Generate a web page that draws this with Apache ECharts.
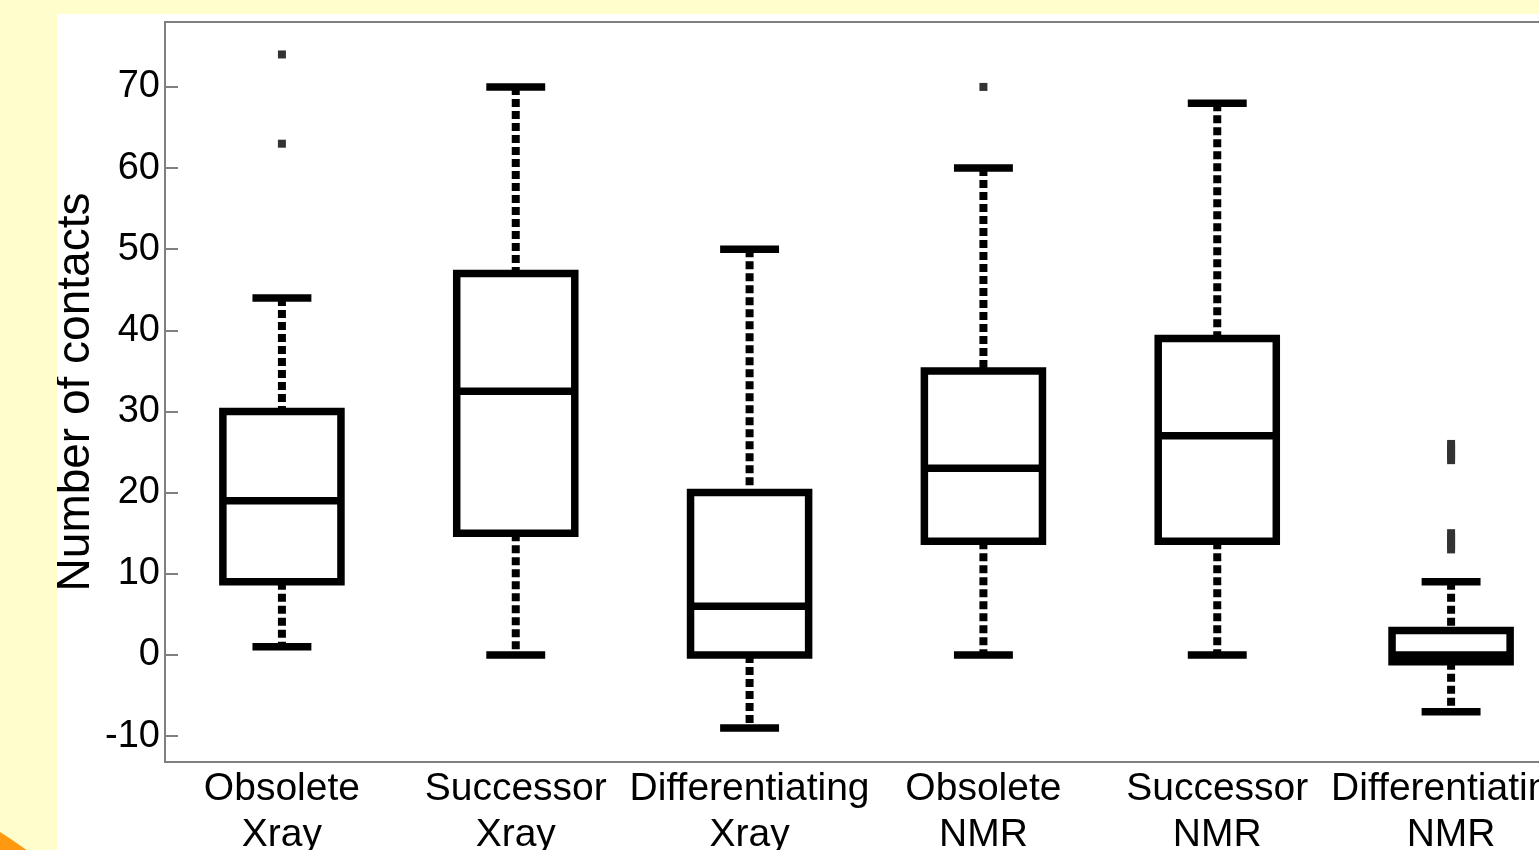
<!DOCTYPE html>
<html>
<head>
<meta charset="utf-8">
<script src="https://cdn.jsdelivr.net/npm/echarts@6/dist/echarts.min.js"></script>
<style>
  html, body { margin: 0; padding: 0; overflow: hidden; }
  #page { position: relative; width: 1539px; height: 850px; background: #fffdcc; overflow: hidden; }
  #corner { position: absolute; left: -856px; top: 744px; width: 1112px; height: 1112px; border-radius: 50%; background: #ff9a10; }
  #main { position: absolute; left: 57px; top: 14px; width: 1600px; height: 836px; background: #fff; }
</style>
</head>
<body>
<div id="page">
  <div id="corner"></div>
  <div id="main"></div>
</div>
<script>
// categories
var categories = ['Obsolete\nXray', 'Successor\nXray', 'Differentiating\nXray',
                  'Obsolete\nNMR', 'Successor\nNMR', 'Differentiating\nNMR'];
// box stats: [low whisker, Q1, median, Q3, high whisker]
var lowWhisker = [1, 0, -9, 0, 0, -7];
var q1 = [9, 15, 0, 14, 14, -0.85];
var median = [19, 32.5, 6, 23, 27, 0];
var q3 = [30, 47, 20, 35, 39, 3];
var highWhisker = [44, 70, 50, 60, 68, 9];
// outliers: [category index, value]
var outliers = [
  [0, 74], [0, 63],
  [3, 70],
  [5, 24], [5, 24.5], [5, 25], [5, 25.5], [5, 26],
  [5, 13], [5, 13.5], [5, 14], [5, 14.5], [5, 15]
];
var yTicks = [-10, 0, 10, 20, 30, 40, 50, 60, 70];

var boxData = [];
for (var i = 0; i < categories.length; i++) {
  boxData.push([i, lowWhisker[i], q1[i], median[i], q3[i], highWhisker[i]]);
}

var chart = echarts.init(document.getElementById('main'));

function renderBox(params, api) {
  var x = api.value(0);
  var pLo = api.coord([x, api.value(1)]);
  var pQ1 = api.coord([x, api.value(2)]);
  var pMed = api.coord([x, api.value(3)]);
  var pQ3 = api.coord([x, api.value(4)]);
  var pHi = api.coord([x, api.value(5)]);
  var band = api.size([1, 0])[0];
  var boxW = band * 0.505;
  var capW = band * 0.252;
  var cx = pMed[0];
  var dash = { stroke: '#000', lineWidth: 8, lineDash: [8, 4], fill: null };
  var solid = { stroke: '#000', lineWidth: 7.5, fill: null };
  return {
    type: 'group',
    children: [
      { type: 'line', shape: { x1: cx, y1: pHi[1], x2: cx, y2: pQ3[1] }, style: dash },
      { type: 'line', shape: { x1: cx, y1: pQ1[1], x2: cx, y2: pLo[1] }, style: dash },
      { type: 'line', shape: { x1: cx - capW / 2, y1: pHi[1], x2: cx + capW / 2, y2: pHi[1] }, style: solid },
      { type: 'line', shape: { x1: cx - capW / 2, y1: pLo[1], x2: cx + capW / 2, y2: pLo[1] }, style: solid },
      { type: 'rect', shape: { x: cx - boxW / 2, y: pQ3[1], width: boxW, height: pQ1[1] - pQ3[1] },
        style: { stroke: '#000', lineWidth: 7.5, fill: '#fff', lineJoin: 'miter' } },
      { type: 'line', shape: { x1: cx - boxW / 2, y1: pMed[1], x2: cx + boxW / 2, y2: pMed[1] }, style: solid }
    ]
  };
}

var option = {
  animation: false,
  grid: {
    left: 108,
    top: 8,
    width: 1403,
    height: 740,
    outerBoundsMode: 'none',
    containLabel: false,
    show: true,
    borderColor: '#808080',
    borderWidth: 2,
    backgroundColor: 'transparent'
  },
  xAxis: {
    type: 'category',
    data: categories,
    boundaryGap: true,
    axisLine: { onZero: false, lineStyle: { color: '#808080', width: 2 } },
    axisTick: { show: false },
    axisLabel: {
      interval: 0,
      color: '#000',
      fontFamily: 'Liberation Sans',
      fontSize: 39,
      lineHeight: 46,
      margin: 4
    },
    splitLine: { show: false }
  },
  yAxis: {
    type: 'value',
    min: -13.2,
    max: 78,
    name: 'Number of contacts',
    nameLocation: 'middle',
    nameRotate: 90,
    nameGap: 66,
    nameMoveOverlap: false,
    nameTextStyle: { color: '#000', fontFamily: 'Liberation Sans', fontSize: 46 },
    axisLine: { show: true, lineStyle: { color: '#808080', width: 2 } },
    axisTick: {
      show: true,
      inside: true,
      length: 13,
      customValues: yTicks,
      lineStyle: { color: '#808080', width: 2 }
    },
    axisLabel: {
      customValues: yTicks,
      color: '#000',
      fontFamily: 'Liberation Sans',
      fontSize: 38,
      margin: 5
    },
    splitLine: { show: false }
  },
  series: [
    {
      type: 'custom',
      renderItem: renderBox,
      data: boxData,
      encode: { x: 0, y: [1, 2, 3, 4, 5] }
    },
    {
      type: 'scatter',
      data: outliers,
      symbol: 'rect',
      symbolSize: 8,
      itemStyle: { color: '#333', opacity: 1 }
    }
  ]
};

chart.setOption(option);
</script>
</body>
</html>
